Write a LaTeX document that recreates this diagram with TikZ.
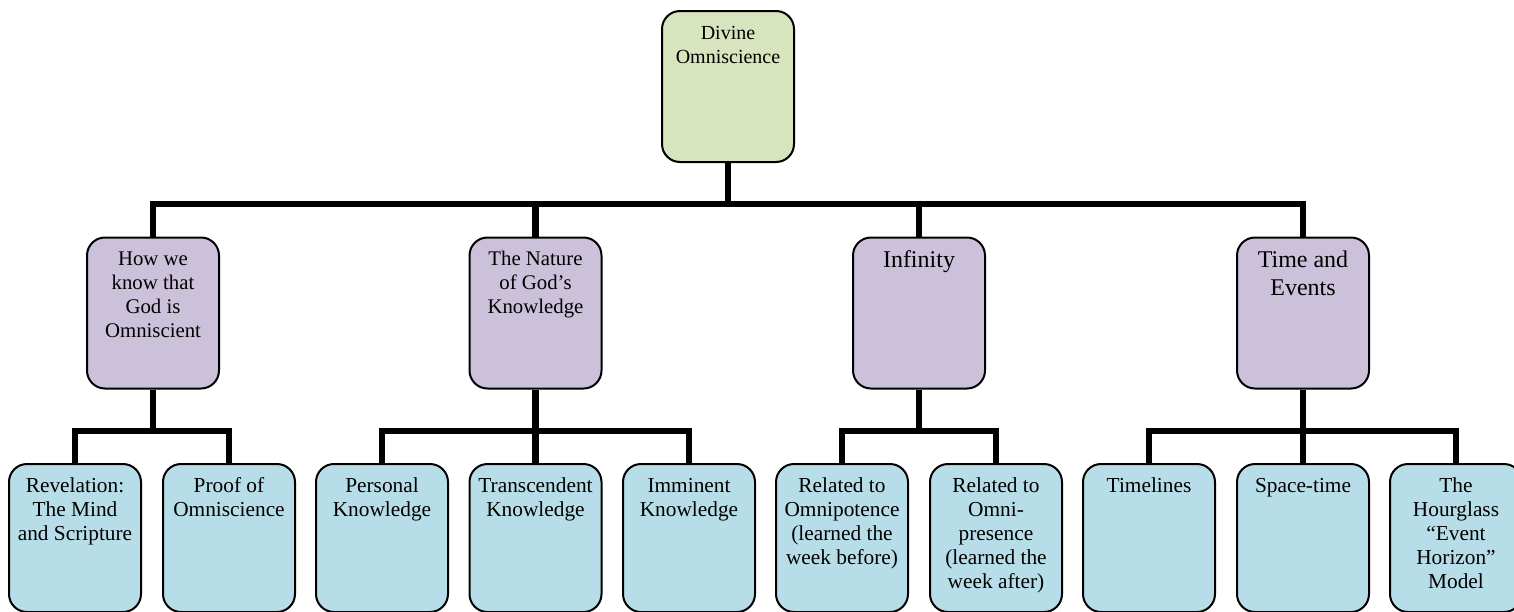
\documentclass[tikz,border=0pt]{standalone}
\usepackage{fontspec}
\setmainfont{Liberation Serif}
\definecolor{rootfill}{HTML}{D7E4BD}
\definecolor{midfill}{HTML}{CCC1DA}
\definecolor{leaffill}{HTML}{B7DEE8}
\newcommand\stxt[3]{\parbox[c][#1][t]{99pt}{\fontsize{#2}{18pt}\selectfont\centering\rule{0pt}{21pt}#3}}
\newcommand\btxt[2]{\parbox[c][#1][t]{99pt}{\fontsize{18pt}{21pt}\selectfont\centering\rule{0pt}{22.5pt}#2}}
\tikzset{
  box/.style={draw=black, line width=1.5pt, rounded corners=13.5pt, inner sep=0pt, text=black},
  rootbox/.style={box, fill=rootfill},
  midbox/.style={box, fill=midfill},
  leafbox/.style={box, fill=leaffill},
  conn/.style={draw=black, line width=4.9pt, line join=miter}
}
\begin{document}
\begin{tikzpicture}[x=0.75pt, y=-0.75pt]
\useasboundingbox (0,0) rectangle (1514,611);
\clip (0,0) rectangle (1514,611);
% coordinates for bus bars
\coordinate (b0) at (728,204);
\coordinate (b1) at (153,431);
\coordinate (b2) at (535.5,431);
\coordinate (b3) at (919,431);
\coordinate (b4) at (1303,431);
\node[rootbox] (root) at (728,86.5) {\stxt{113.25pt}{15pt}{Divine\\Omniscience}};
\node[midbox] (m1) at (153,313) {\stxt{113.25pt}{15.6pt}{How we\\know that\\God is\\Omniscient}};
\node[midbox] (m2) at (535.5,313) {\stxt{113.25pt}{15.6pt}{The Nature\\of God’s\\Knowledge}};
\node[midbox] (m3) at (919,313) {\btxt{113.25pt}{Infinity}};
\node[midbox] (m4) at (1303,313) {\btxt{113.25pt}{Time and\\Events}};
\node[leafbox] (l1) at (75,538) {\stxt{111pt}{16pt}{Revelation:\\The Mind\\and Scripture}};
\node[leafbox] (l2) at (229,538) {\stxt{111pt}{16pt}{Proof of\\Omniscience}};
\node[leafbox] (l3) at (382,538) {\stxt{111pt}{16pt}{Personal\\Knowledge}};
\node[leafbox] (l4) at (535.5,538) {\stxt{111pt}{16pt}{Transcendent\\Knowledge}};
\node[leafbox] (l5) at (689,538) {\stxt{111pt}{16pt}{Imminent\\Knowledge}};
\node[leafbox] (l6) at (842,538) {\stxt{111pt}{16pt}{Related to\\Omnipotence\\(learned the\\week before)}};
\node[leafbox] (l7) at (996,538) {\stxt{111pt}{16pt}{Related to\\Omni-\\presence\\(learned the\\week after)}};
\node[leafbox] (l8) at (1149,538) {\stxt{111pt}{16pt}{Timelines}};
\node[leafbox] (l9) at (1303,538) {\stxt{111pt}{16pt}{Space-time}};
\node[leafbox] (l10) at (1456,538) {\stxt{111pt}{16pt}{The\\Hourglass\\“Event\\Horizon”\\Model}};
% level 1 -> level 2
\draw[conn] (root.south) -- (b0);
\draw[conn] (m1.north) |- (b0) -| (m4.north);
\draw[conn] (b0) -| (m2.north);
\draw[conn] (b0) -| (m3.north);
% level 2 -> level 3
\draw[conn] (m1.south) -- (b1);
\draw[conn] (l1.north) |- (b1) -| (l2.north);
\draw[conn] (m2.south) -- (b2);
\draw[conn] (l3.north) |- (b2) -| (l5.north);
\draw[conn] (b2) -- (l4.north);
\draw[conn] (m3.south) -- (b3);
\draw[conn] (l6.north) |- (b3) -| (l7.north);
\draw[conn] (m4.south) -- (b4);
\draw[conn] (l8.north) |- (b4) -| (l10.north);
\draw[conn] (b4) -- (l9.north);
\end{tikzpicture}
\end{document}
